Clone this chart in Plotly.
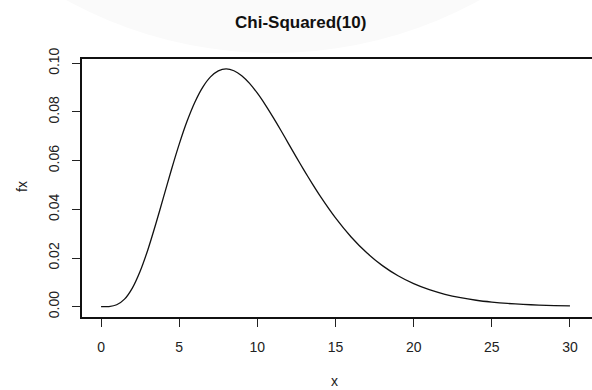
import plotly.graph_objects as go

# Values (chi-squared density, 10 df)
x_vals = [0, 0.5, 1, 1.5, 2, 2.5, 3, 3.5, 4, 4.5, 5, 5.5, 6, 6.5, 7, 7.5, 8, 8.5,
          9, 9.5, 10, 10.5, 11, 11.5, 12, 12.5, 13, 13.5, 14, 15, 16, 17, 18, 19,
          20, 21, 22, 23, 24, 25, 26, 27, 28, 29, 30]
fx_vals = [0.0, 0.00006, 0.00079, 0.00311, 0.00766, 0.01457, 0.02353, 0.03396,
           0.04511, 0.05628, 0.06680, 0.07617, 0.08402, 0.09012, 0.09441, 0.09690,
           0.09770, 0.09695, 0.09491, 0.09176, 0.08773, 0.08306, 0.07791, 0.07249,
           0.06692, 0.06136, 0.05591, 0.05064, 0.04561, 0.03646, 0.02863, 0.02213,
           0.01687, 0.01270, 0.00946, 0.00697, 0.00509, 0.00369, 0.00265, 0.00190,
           0.00134, 0.00095, 0.00067, 0.00046, 0.00032]

x_ticks = [0, 5, 10, 15, 20, 25, 30]
y_ticks = [0.00, 0.02, 0.04, 0.06, 0.08, 0.10]
y_tick_labels = ["0.00", "0.02", "0.04", "0.06", "0.08", "0.10"]

title_text = "Chi-Squared(10)"
x_title = "x"
y_title = "fx"

W, H = 592, 390
L, R, T, B = 82, 0, 59, 73
pw, ph = W - L - R, H - T - B

def px(xp):
    return (xp - L) / pw

def py(yp):
    return (H - B - yp) / ph

FONT = "Liberation Sans, Arial, sans-serif"

fig = go.Figure()
fig.add_trace(go.Scatter(x=x_vals, y=fx_vals, mode="lines",
                         line=dict(color="#111111", width=1.3, shape="spline", smoothing=0.6),
                         hoverinfo="skip", showlegend=False))

fig.update_layout(
    width=W, height=H,
    margin=dict(l=L, r=R, t=T, b=B, pad=0),
    paper_bgcolor="white", plot_bgcolor="white",
    font=dict(family=FONT, size=14, color="#222222"),
    showlegend=False,
    xaxis=dict(range=[-1.22, 31.41], tickvals=x_ticks, ticktext=[str(v) for v in x_ticks],
               ticks="outside", ticklen=8, tickwidth=1, tickcolor="#222222",
               showline=True, linecolor="#111111", linewidth=1.5, mirror=True,
               showgrid=False, zeroline=False, ticklabelstandoff=8,
               tickfont=dict(size=14, color="#222222")),
    yaxis=dict(range=[-0.00423, 0.10177], tickvals=y_ticks, ticktext=y_tick_labels,
               ticks="outside", ticklen=8, tickwidth=1, tickcolor="#222222",
               showline=True, linecolor="#111111", linewidth=1.5, mirror=False,
               showgrid=False, zeroline=False, tickangle=-90, ticklabelstandoff=8,
               tickfont=dict(size=14, color="#222222")),
    shapes=[dict(type="circle", xref="paper", yref="paper", layer="below",
                 x0=px(273 - 431), x1=px(273 + 431), y0=py(53), y1=py(-809),
                 fillcolor="#fafafa", line=dict(width=0))],
    annotations=[
        dict(text="<b>" + title_text + "</b>", xref="paper", yref="paper",
             x=px(300), y=py(23), xanchor="center", yanchor="middle", showarrow=False,
             font=dict(family=FONT, size=17, color="#111111")),
        dict(text=x_title, xref="paper", yref="paper", x=px(334), y=py(381),
             xanchor="center", yanchor="middle", showarrow=False,
             font=dict(family=FONT, size=14, color="#222222")),
        dict(text=y_title, xref="paper", yref="paper", x=px(22), y=py(187),
             xanchor="center", yanchor="middle", showarrow=False, textangle=-90,
             font=dict(family=FONT, size=14, color="#222222")),
    ],
)

fig.write_html("out.html")
